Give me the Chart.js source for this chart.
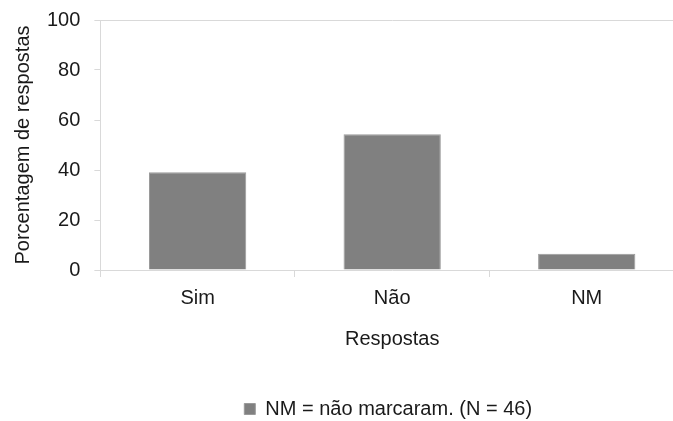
<!DOCTYPE html>
<html>
<head>
<meta charset="utf-8">
<script src="https://cdn.jsdelivr.net/npm/chart.js@4/dist/chart.umd.min.js"></script>
<style>
html,body{margin:0;padding:0;background:#fff;overflow:hidden;width:673px;height:421px;}
#wrap{position:relative;width:780px;height:429px;}
</style>
</head>
<body>
<div id="wrap"><canvas id="c"></canvas></div>
<script>
const categories = ["Sim", "Não", "NM"];
const percentages = [39.13, 54.35, 6.52];
const yTicks = [0, 20, 40, 60, 80, 100];
const seriesLabel = "NM = não marcaram. (N = 46)";
const xTitle = "Respostas";
const yTitle = "Porcentagem de respostas";

const FONT = "'Liberation Sans', Arial, sans-serif";
const txt = "#1a1a1a";
const line = "#d9d9d9";

// centre the legend under the plot area (as in the reference)
const legendUnderPlot = {
  id: 'legendUnderPlot',
  afterLayout(chart) {
    const lg = chart.legend, ca = chart.chartArea;
    if (lg && ca) { lg.left = ca.left - 4; lg.right = ca.right - 4; }
  }
};

new Chart(document.getElementById('c'), {
  type: 'bar',
  data: {
    labels: categories,
    datasets: [{
      label: seriesLabel,
      data: percentages,
      backgroundColor: '#808080',
      borderColor: '#9a9a9a',
      borderWidth: 1,
      barPercentage: 0.5,
      categoryPercentage: 1.0
    }]
  },
  plugins: [legendUnderPlot],
  options: {
    responsive: true,
    maintainAspectRatio: false,
    animation: false,
    layout: { padding: { left: 11, right: 96, top: 0, bottom: 0 } },
    plugins: {
      tooltip: { enabled: false },
      legend: {
        position: 'bottom',
        labels: {
          color: txt,
          font: { family: FONT, size: 20 },
          boxWidth: 11,
          boxHeight: 11,
          padding: 4
        }
      }
    },
    scales: {
      x: {
        grid: { drawOnChartArea: false, color: line, tickLength: 7, offset: true },
        border: { color: line },
        ticks: { color: txt, font: { family: FONT, size: 20 }, padding: 9 },
        title: { display: true, text: xTitle, color: txt, font: { family: FONT, size: 20 }, padding: { top: 8, bottom: 44 } }
      },
      y: {
        min: 0, max: 100,
        afterBuildTicks: (s) => { s.ticks = yTicks.map(v => ({ value: v })); },
        grid: {
          color: (ctx) => (ctx.tick && ctx.tick.value === 100) ? line : 'rgba(0,0,0,0)',
          tickColor: line,
          tickLength: 6
        },
        border: { color: line },
        ticks: { color: txt, font: { family: FONT, size: 20, lineHeight: 0.6 }, padding: 14 },
        title: { display: true, text: yTitle, color: txt, font: { family: FONT, size: 20 }, padding: { top: 0, bottom: -2 } }
      }
    }
  }
});
</script>
</body>
</html>
